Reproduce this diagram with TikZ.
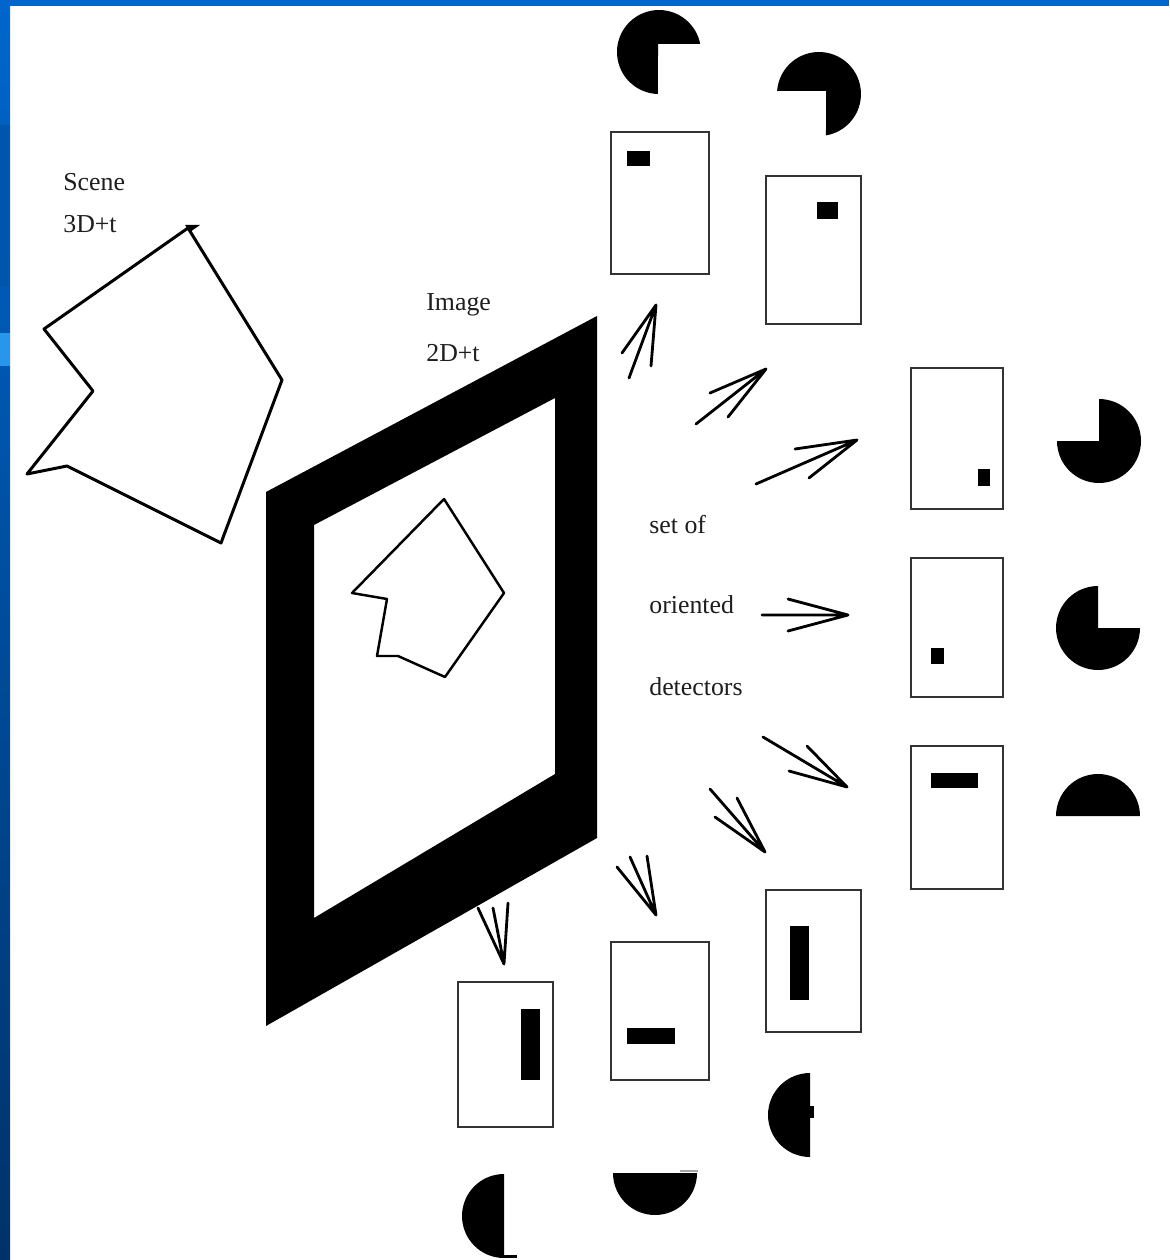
\documentclass[tikz,border=0pt]{standalone}
\usepackage{fontspec}
\setmainfont{Liberation Serif}
\definecolor{slideblue}{RGB}{0,102,204}
\definecolor{slidedeep}{RGB}{0,50,105}
\definecolor{slidemid}{RGB}{0,86,172}
\definecolor{slidelight}{RGB}{40,150,235}
\definecolor{ink}{RGB}{30,30,30}
\tikzset{
  shapeline/.style={draw=black, line width=1.7pt, line join=round},
  smallline/.style={draw=black, line width=1.4pt, line join=round},
  detbox/.style={draw=black!80, line width=1.1pt},
  spot/.style={fill=black},
  barb/.style={draw=black, line width=1.6pt, line cap=round, line join=round},
  lbl/.style={anchor=base west, inner sep=0pt, font=\fontsize{14.7}{17}\selectfont, text=ink},
}
\begin{document}
\begin{tikzpicture}[x=0.02cm, y=-0.02cm]
\useasboundingbox (0,0) rectangle (1169,1260);
\fill[white] (0,0) rectangle (1169,1260);

% slide border
\shade[top color=slideblue, bottom color=slidedeep] (0,0) rectangle (10,1260);
\fill[slidemid] (0,125) rectangle (10,287);
\fill[slidelight] (0,333) rectangle (10,366);
\fill[slideblue] (0,0) rectangle (1169,6);

% labels
\node[lbl] (scene)  at (63,191) {Scene};
\node[lbl] (scenet) at (63,233) {3D+t};
\node[lbl] (image)  at (426,311) {Image};
\node[lbl] (imaget) at (426,361) {2D+t};
\node[lbl] (setof)  at (649,533) {set of};
\node[lbl] (orient) at (649,613) {oriented};
\node[lbl] (detect) at (649,695) {detectors};

% scene object
\draw[shapeline] (188,228) -- (44,329) -- (93,391) -- (27,474) -- (67,466)
  -- (221,543) -- (282,380) -- cycle;
\fill (185,225) -- (200,225) -- (190,232) -- cycle;

% image plane
\fill[even odd rule] (266,492) -- (597,316) -- (597,838) -- (266,1026) -- cycle
  (314,525) -- (555,398) -- (555,774) -- (314,918) -- cycle;

% projected object
\draw[smallline] (444,499) -- (504,593) -- (445,677) -- (398,656) -- (377,656)
  -- (387,599) -- (352,593) -- cycle;

% detector responses
\draw[detbox] (611,132) rectangle (709,274);  \fill[spot] (627,151) rectangle (650,166);
\draw[detbox] (766,176) rectangle (861,324);  \fill[spot] (817,202) rectangle (838,219);
\draw[detbox] (911,368) rectangle (1003,509); \fill[spot] (978,469) rectangle (990,486);
\draw[detbox] (911,558) rectangle (1003,697); \fill[spot] (931,648) rectangle (944,664);
\draw[detbox] (911,746) rectangle (1003,889); \fill[spot] (931,773) rectangle (978,788);
\draw[detbox] (766,890) rectangle (861,1032); \fill[spot] (790,926) rectangle (809,1000);
\draw[detbox] (611,942) rectangle (709,1080); \fill[spot] (627,1028) rectangle (675,1044);
\draw[detbox] (458,982) rectangle (553,1127); \fill[spot] (521,1009) rectangle (540,1080);

% oriented corner and edge templates
\fill (658,44) -- (700.2,44) arc[start angle=11, end angle=268.6, radius=0.84cm] -- cycle;
\fill (826,91) -- (777.1,91) arc[start angle=175.9, end angle=-80.4, radius=0.84cm] -- cycle;
\fill (1099,441) -- ++(180:0.84cm) arc[start angle=180, end angle=450, radius=0.84cm] -- cycle;
\fill (1098,628) -- ++(90:0.84cm) arc[start angle=90, end angle=360, radius=0.84cm] -- cycle;
\fill (1098,816) -- ++(0:0.84cm) arc[start angle=0, end angle=180, radius=0.84cm] -- cycle;
\fill (810,1115) -- ++(90:0.84cm) arc[start angle=90, end angle=270, radius=0.84cm] -- cycle;
\fill (810,1106) rectangle (814,1118);
\fill (655,1173) -- ++(180:0.84cm) arc[start angle=180, end angle=360, radius=0.84cm] -- cycle;
\draw[black!35, line width=0.6pt] (680,1171) -- (698,1171);
\fill (504,1216) -- ++(90:0.84cm) arc[start angle=90, end angle=270, radius=0.84cm] -- cycle;
\fill (503,1255) rectangle (517,1258);

% arrows from the image plane to the detectors
\coordinate (tA) at (656,305); \coordinate (sA) at (629,378);
\coordinate (lA) at (622,353); \coordinate (rA) at (651,366);
\draw[barb] (sA) -- (tA) -- (lA) (tA) -- (rA);

\coordinate (tB) at (766,369); \coordinate (sB) at (696,424);
\coordinate (lB) at (710,393); \coordinate (rB) at (728,417);
\draw[barb] (sB) -- (tB) -- (lB) (tB) -- (rB);

\coordinate (tC) at (857,440); \coordinate (sC) at (756,484);
\coordinate (lC) at (795,449); \coordinate (rC) at (809,478);
\draw[barb] (sC) -- (tC) -- (lC) (tC) -- (rC);

\coordinate (tD) at (848,615); \coordinate (sD) at (762,615);
\coordinate (lD) at (788,599); \coordinate (rD) at (788,631);
\draw[barb] (sD) -- (tD) -- (lD) (tD) -- (rD);

\coordinate (tE) at (847,787); \coordinate (sE) at (763,737);
\coordinate (lE) at (807,746); \coordinate (rE) at (789,771);
\draw[barb] (sE) -- (tE) -- (lE) (tE) -- (rE);

\coordinate (tF) at (765,852); \coordinate (sF) at (710,789);
\coordinate (lF) at (737,798); \coordinate (rF) at (715,817);
\draw[barb] (sF) -- (tF) -- (lF) (tF) -- (rF);

\coordinate (tG) at (656,915); \coordinate (sG) at (630,857);
\coordinate (lG) at (617,867); \coordinate (rG) at (647,856);
\draw[barb] (sG) -- (tG) -- (lG) (tG) -- (rG);

\coordinate (tH) at (504,964); \coordinate (sH) at (493,908);
\coordinate (lH) at (478,908); \coordinate (rH) at (508,903);
\draw[barb] (sH) -- (tH) -- (lH) (tH) -- (rH);
\end{tikzpicture}
\end{document}
